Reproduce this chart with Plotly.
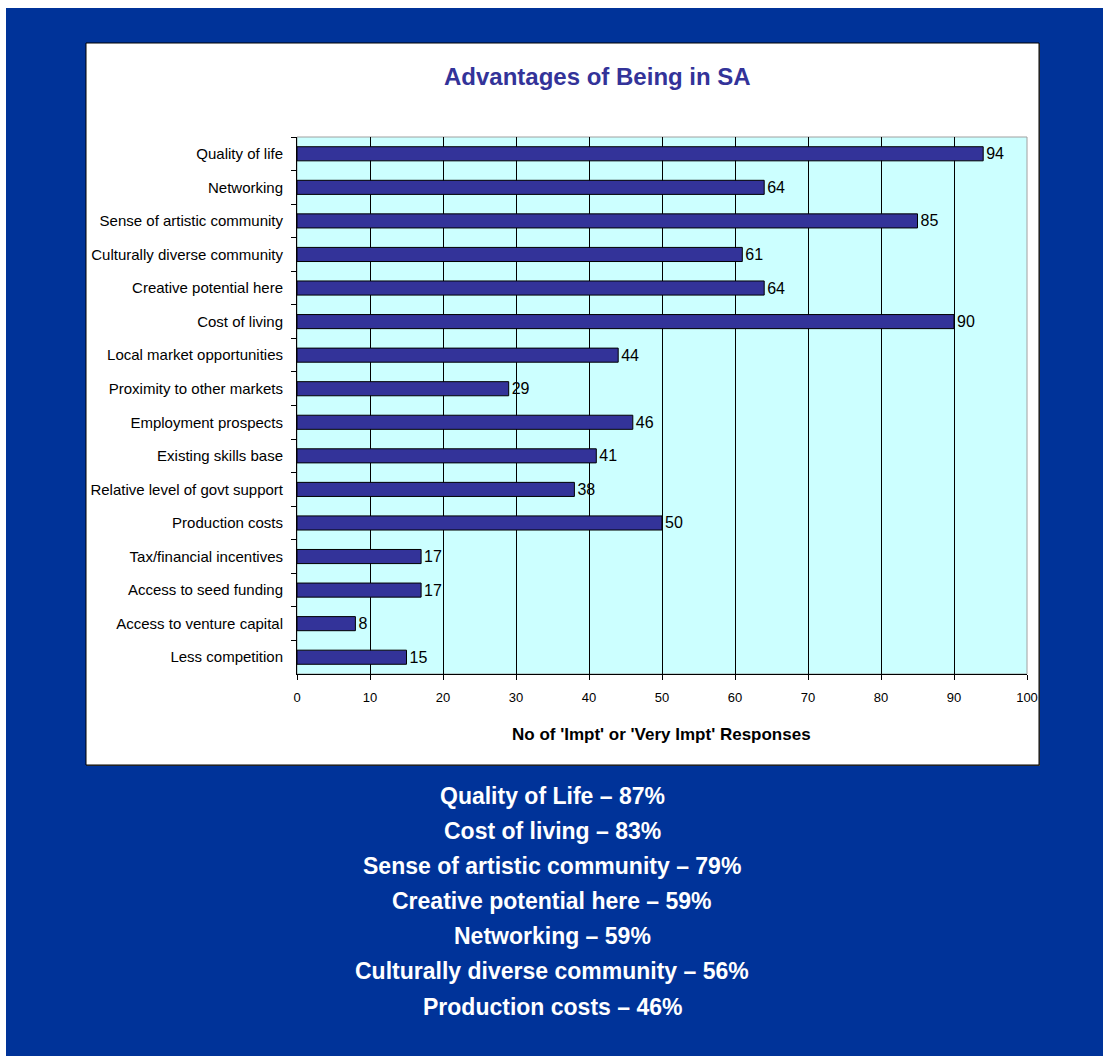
import plotly.graph_objects as go

categories = [
    "Quality of life", "Networking", "Sense of artistic community",
    "Culturally diverse community", "Creative potential here", "Cost of living",
    "Local market opportunities", "Proximity to other markets",
    "Employment prospects", "Existing skills base",
    "Relative level of govt support", "Production costs",
    "Tax/financial incentives", "Access to seed funding",
    "Access to venture capital", "Less competition",
]
values = [94, 64, 85, 61, 64, 90, 44, 29, 46, 41, 38, 50, 17, 17, 8, 15]

title_text = "Advantages of Being in SA"
xaxis_title = "No of 'Impt' or 'Very Impt' Responses"
x_ticks = [0, 10, 20, 30, 40, 50, 60, 70, 80, 90, 100]
summary_lines = [
    "Quality of Life – 87%",
    "Cost of living – 83%",
    "Sense of artistic community – 79%",
    "Creative potential here – 59%",
    "Networking – 59%",
    "Culturally diverse community – 56%",
    "Production costs – 46%",
]

W, H = 1103, 1056
PL, PR, PT, PB = 297, 1027, 137, 674  # plot area pixels

def px(x):
    return (x - PL) / (PR - PL)

def py(y):
    return (PB - y) / (PB - PT)

FONT = "Liberation Sans, Arial, sans-serif"
BLUE = "#003399"
BAR = "#333399"

fig = go.Figure()
fig.add_trace(go.Bar(
    x=values, y=categories, orientation="h",
    marker=dict(color=BAR, line=dict(color="black", width=1)),
    text=[str(v) for v in values], textposition="outside",
    textfont=dict(family=FONT, size=16, color="black"),
    constraintext="none", cliponaxis=False,
    hoverinfo="skip",
))

shapes = [
    # blue slide background
    dict(type="rect", xref="paper", yref="paper",
         x0=px(6), x1=px(W + 5), y0=py(H + 5), y1=py(8),
         fillcolor=BLUE, line=dict(width=0), layer="below"),
    # frame shadow
    dict(type="rect", xref="paper", yref="paper",
         x0=px(87), x1=px(1040), y0=py(766), y1=py(44),
         fillcolor="#444444", line=dict(width=0), layer="below"),
    # white chart frame
    dict(type="rect", xref="paper", yref="paper",
         x0=px(86), x1=px(1039), y0=py(765), y1=py(43),
         fillcolor="white", line=dict(color="black", width=1), layer="below"),
    # plot area
    dict(type="rect", xref="paper", yref="paper",
         x0=0, x1=1, y0=0, y1=1,
         fillcolor="#CCFFFF", line=dict(color="#A0A0A0", width=1), layer="below"),
]

annotations = [
    dict(text=f"<b>{title_text}</b>", xref="paper", yref="paper",
         x=px(597), y=py(77), xanchor="center", yanchor="middle",
         showarrow=False, font=dict(family=FONT, size=24, color=BAR)),
    dict(text=f"<b>{xaxis_title}</b>", xref="paper", yref="paper",
         x=px(661), y=py(734), xanchor="center", yanchor="middle",
         showarrow=False, font=dict(family=FONT, size=17, color="black")),
]
line_y0, line_dy = 796, 35.1
for i, t in enumerate(summary_lines):
    annotations.append(dict(
        text=f"<b>{t}</b>", xref="paper", yref="paper",
        x=px(552), y=py(line_y0 + i * line_dy), xanchor="center", yanchor="middle",
        showarrow=False, font=dict(family=FONT, size=23, color="white")))

fig.update_layout(
    width=W, height=H,
    margin=dict(l=PL, r=W - PR, t=PT, b=H - PB, pad=0),
    paper_bgcolor="white", plot_bgcolor="rgba(0,0,0,0)",
    showlegend=False, bargap=0.58,
    shapes=shapes, annotations=annotations,
    font=dict(family=FONT, color="black"),
)
fig.update_xaxes(
    range=[0, 100], tickvals=x_ticks, ticktext=[str(t) for t in x_ticks],
    showgrid=True, gridcolor="black", gridwidth=1,
    ticks="outside", ticklen=5, tickcolor="black", tickwidth=1,
    showline=True, linecolor="black", linewidth=1,
    tickfont=dict(family=FONT, size=13, color="black"),
    ticklabelstandoff=6,
    zeroline=False, fixedrange=True,
)
fig.update_yaxes(
    type="category", range=[len(categories) - 0.5, -0.5],
    ticks="outside", ticklen=5, tickcolor="black", tickwidth=1, tickson="boundaries",
    showline=True, linecolor="black", linewidth=1, showgrid=False,
    tickfont=dict(family=FONT, size=15, color="black"),
    ticklabelstandoff=10, fixedrange=True,
)

fig.write_html("out.html")
